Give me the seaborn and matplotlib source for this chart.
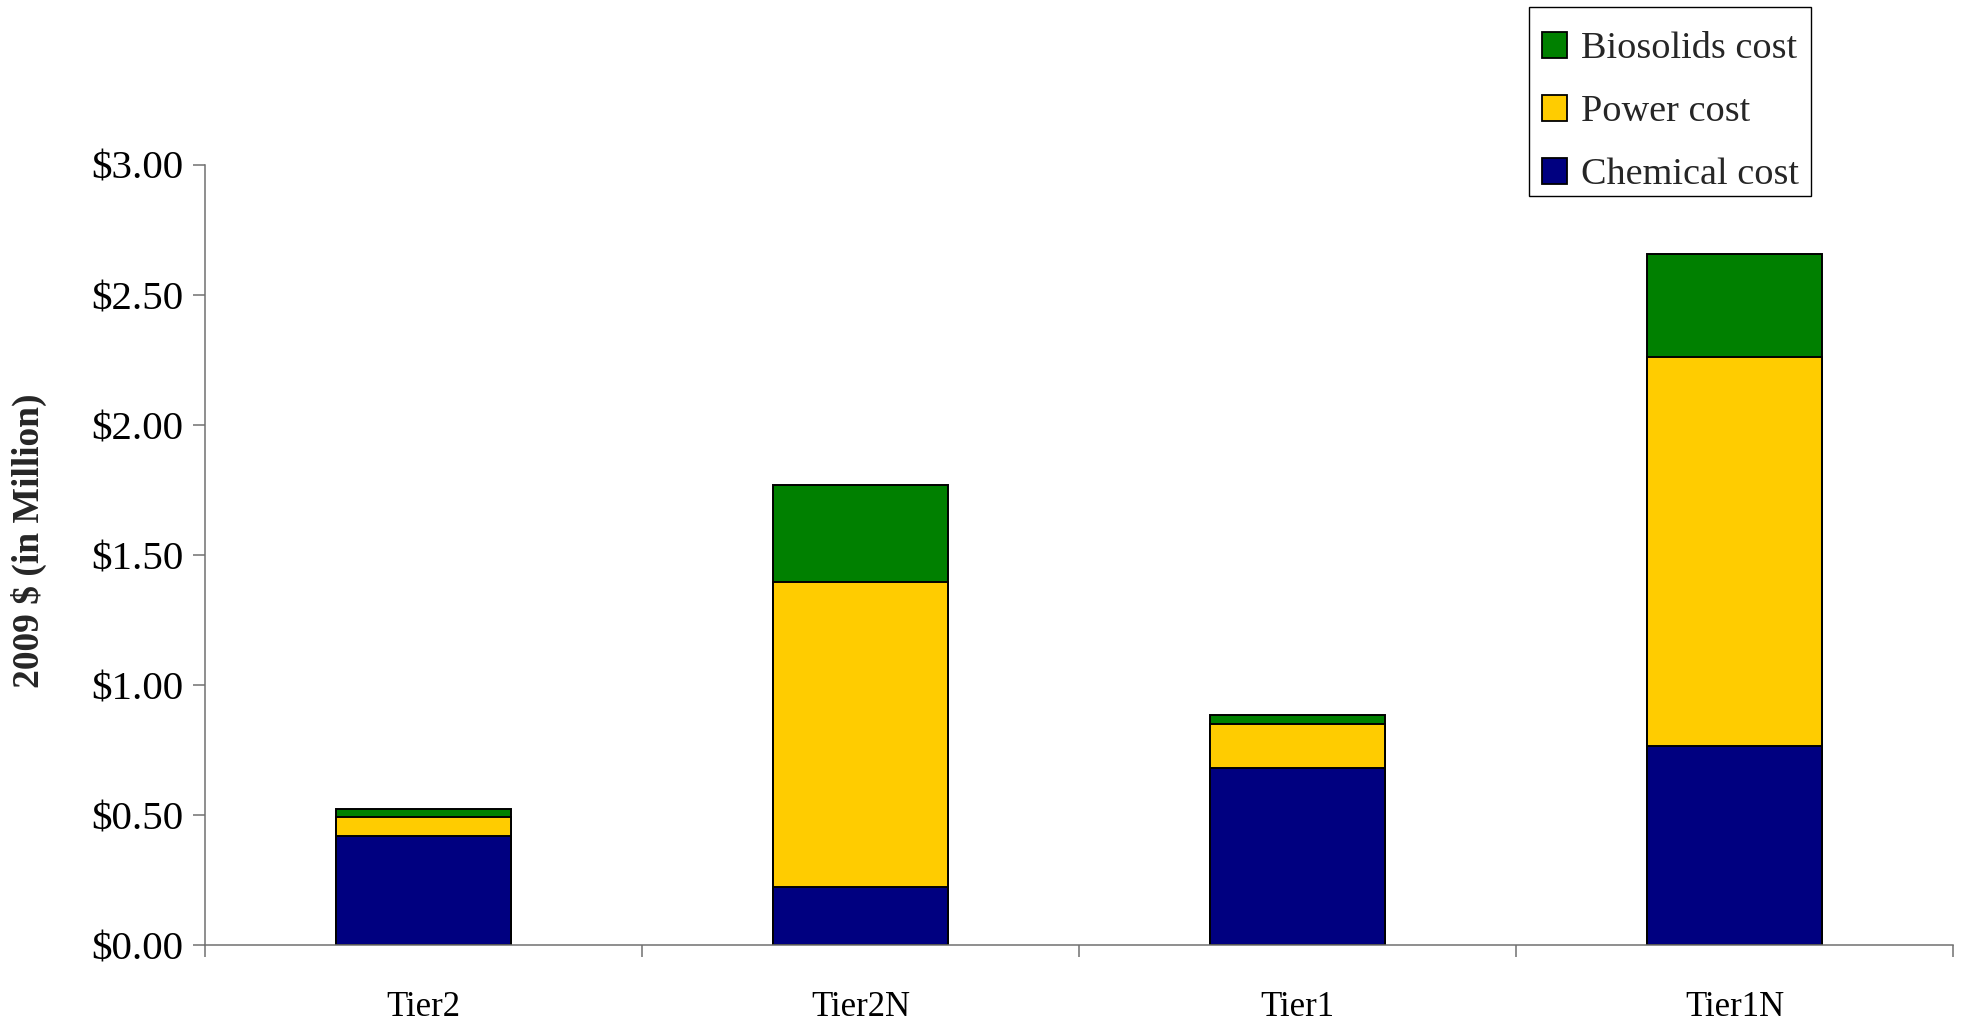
import matplotlib
matplotlib.use("Agg")
import matplotlib.pyplot as plt
from matplotlib.patches import Patch, Rectangle
from matplotlib.ticker import FuncFormatter, FixedLocator
import numpy as np
import pandas as pd
import seaborn as sns

# Annual operating cost components (2009 $, millions)
scenarios = ["Tier2", "Tier2N", "Tier1", "Tier1N"]
chemical_cost = [0.420, 0.224, 0.682, 0.765]
power_cost = [0.073, 1.173, 0.167, 1.498]
biosolids_cost = [0.030, 0.372, 0.036, 0.395]

series_labels = ["Biosolids cost", "Power cost", "Chemical cost"]
series_colors = ["#008000", "#FFCC00", "#000080"]
y_ticks = [0.0, 0.5, 1.0, 1.5, 2.0, 2.5, 3.0]

sns.set_theme(style="white")
plt.rcParams["font.family"] = ["Liberation Serif", "DejaVu Serif"]

chem = np.array(chemical_cost)
power = np.array(power_cost)
bio = np.array(biosolids_cost)

df = pd.DataFrame({
    "scenario": scenarios,
    "top": chem + power + bio,
    "mid": chem + power,
    "base": chem,
})

fig = plt.figure(figsize=(19.67, 10.21), dpi=100)
ax = fig.add_axes([0.1041, 0.0744, 0.9929 - 0.1041, 0.8384 - 0.0744])

bar_kw = dict(width=0.4, edgecolor="black", linewidth=1.4, saturation=1, ax=ax)
# Cumulative layers drawn from the tallest down give a stacked look
sns.barplot(data=df, x="scenario", y="top", color=series_colors[0], **bar_kw)
sns.barplot(data=df, x="scenario", y="mid", color=series_colors[1], **bar_kw)
sns.barplot(data=df, x="scenario", y="base", color=series_colors[2], **bar_kw)

ax.set_xlim(-0.5, len(scenarios) - 0.5)
ax.set_ylim(0, 3.0)
ax.set_yticks(y_ticks)
ax.yaxis.set_major_formatter(FuncFormatter(lambda v, p: f"${v:.2f}"))

# Category boundaries carry the ticks; names sit between them
ax.xaxis.set_major_locator(FixedLocator(np.arange(-0.5, len(scenarios), 1.0)))
ax.xaxis.set_minor_locator(FixedLocator(np.arange(len(scenarios))))
ax.set_xticklabels([], minor=False)
ax.set_xticklabels(scenarios, minor=True)
ax.set_xlabel("")

axis_gray = "#707070"
for side in ["top", "right"]:
    ax.spines[side].set_visible(False)
for side in ["left", "bottom"]:
    ax.spines[side].set_color(axis_gray)
    ax.spines[side].set_linewidth(1.1)

ax.tick_params(axis="y", which="major", direction="out", length=8.4, width=1.1,
               color=axis_gray, left=True, labelsize=29.5, pad=7, labelcolor="black")
ax.tick_params(axis="x", which="major", direction="out", length=8.4, width=1.1,
               color=axis_gray, bottom=True)
ax.tick_params(axis="x", which="minor", length=0, labelsize=25, pad=33,
               labelcolor="black", bottom=True)

ax.set_ylabel("2009 $ (in Million)", fontsize=27, fontweight="bold")
ax.yaxis.set_label_coords(-0.090, 0.518)

# Legend entries, with a separately drawn box around them
handles = [Patch(facecolor=c, edgecolor="black", linewidth=1.3) for c in series_colors]
leg = fig.legend(handles, series_labels, loc="upper right",
                 bbox_to_anchor=(0.9212, 0.982), borderaxespad=0,
                 fontsize=27.5, frameon=False,
                 handlelength=0.63, handleheight=0.7, handletextpad=0.37,
                 borderpad=0.35, labelspacing=0.74)
fig.patches.append(Rectangle((0.7773, 0.808), 0.9207 - 0.7773, 0.9927 - 0.808,
                             transform=fig.transFigure, fill=False,
                             edgecolor="black", linewidth=1.0, figure=fig))

fig.savefig("out.png", dpi=100)
